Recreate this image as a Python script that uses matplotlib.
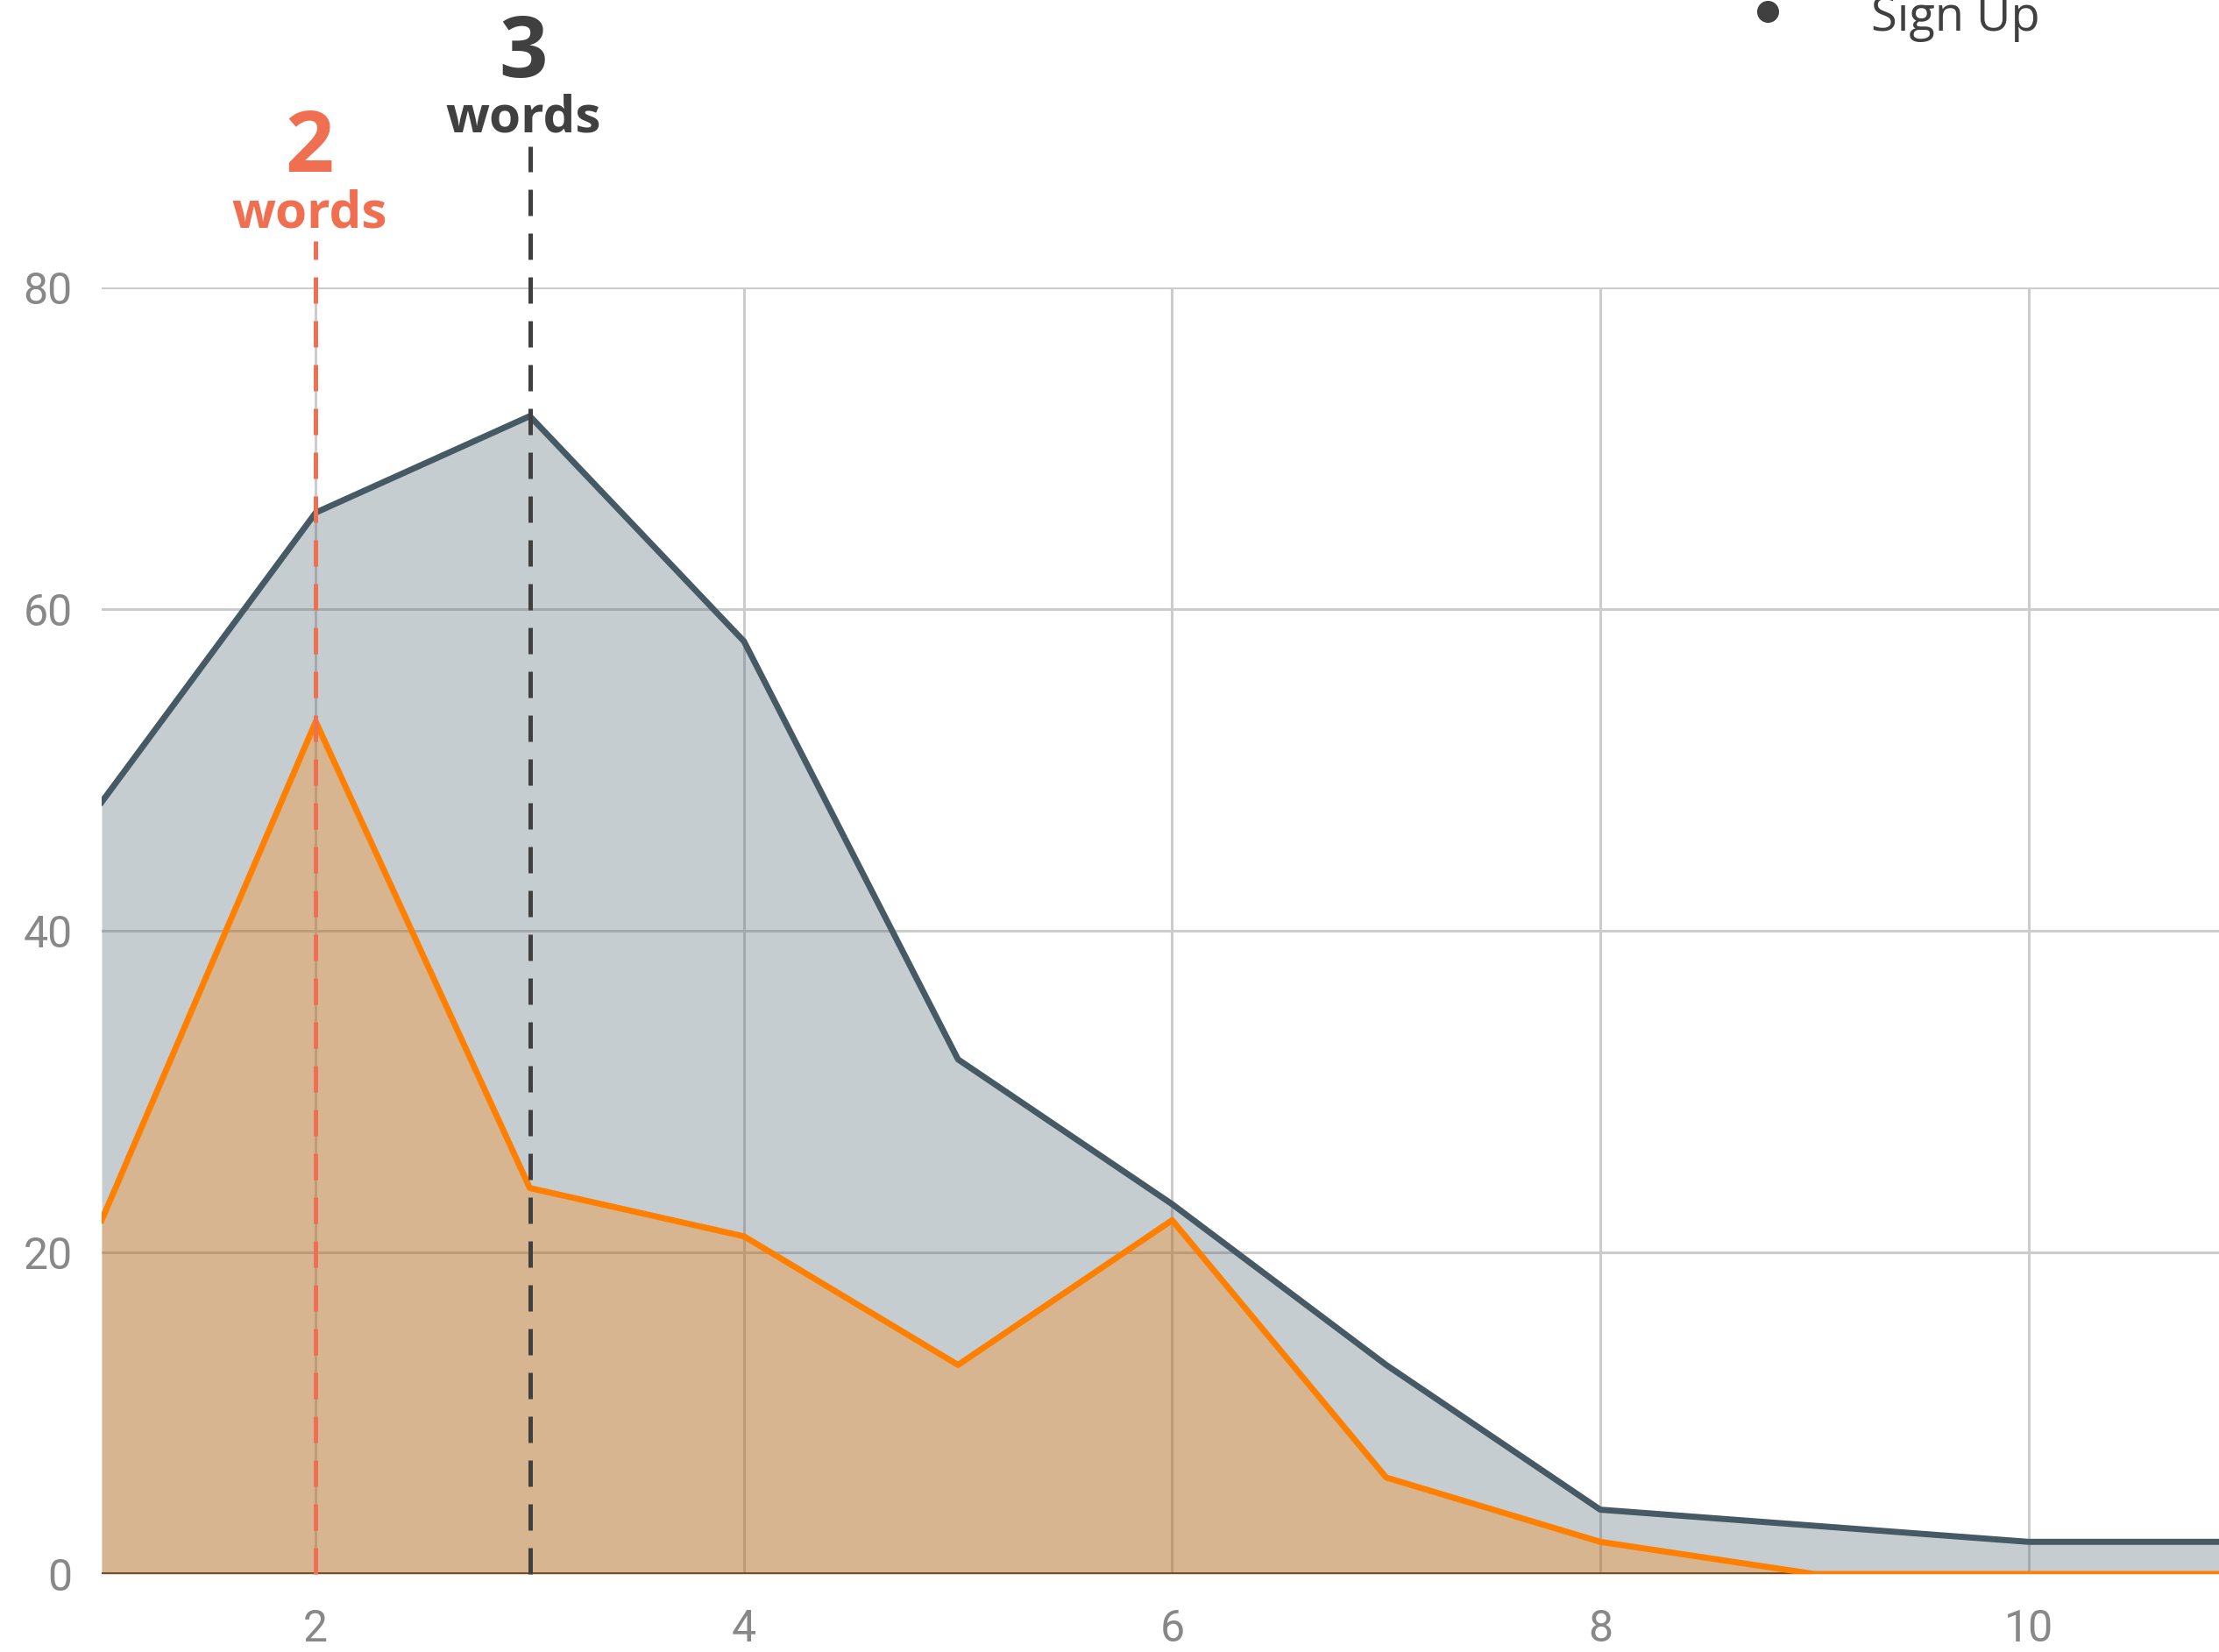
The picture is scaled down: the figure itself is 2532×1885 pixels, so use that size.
import matplotlib
matplotlib.use("Agg")
import matplotlib.pyplot as plt
from matplotlib.lines import Line2D

# words per name -> counts
x_words = [1, 2, 3, 4, 5, 6, 7, 8, 9, 10, 11]
total = [48, 66, 72, 58, 32, 23, 13, 4, 3, 2, 2]
sign_up = [22, 53, 24, 21, 13, 22, 6, 2, 0, 0, 0]

x_ticks = [2, 4, 6, 8, 10]
y_ticks = [0, 20, 40, 60, 80]

marks = [2, 3]
mark_top = [82.9, 88.8]
mark_colors = ["#EF6F50", "#404040"]
legend_label = "Sign Up"

DARK = "#455A64"
ORANGE = "#FF8000"

fig = plt.figure(figsize=(25.32, 18.85), dpi=100)
ax = fig.add_axes([116 / 2532, 1 - 1796 / 1885, 1 - 116 / 2532, (1796 - 328) / 1885])

ax.set_xlim(1, 10.89)
ax.set_ylim(0, 80)

# grid first so fills sit on top of it
for xt in x_ticks:
    ax.axvline(xt, color="#cccccc", lw=2.2, zorder=0)
for yt in y_ticks[1:]:
    ax.axhline(yt, color="#cccccc", lw=2.2, zorder=0)
ax.axhline(0, color="#3a2a1a", lw=3.5, zorder=0.5)

ax.fill_between(x_words, total, 0, color=DARK, alpha=0.3, lw=0, zorder=1)
ax.fill_between(x_words, sign_up, 0, color=ORANGE, alpha=0.3, lw=0, zorder=1.1)
ax.plot(x_words, total, color=DARK, lw=5, zorder=3)
ax.plot(x_words, sign_up, color=ORANGE, lw=5, zorder=3.1)

for m, top, c in zip(marks, mark_top, mark_colors):
    ax.plot([m, m], [0, top], color=c, lw=3.6, dashes=(6, 4),
            clip_on=False, zorder=4)
    ax.text(m - 0.03, top + 0.85, "words", color=c, fontsize=42, fontweight="bold",
            family="Open Sans", ha="center", va="baseline")
    ax.text(m - 0.03, top + 4.3, str(m), color=c, fontsize=70, fontweight="bold",
            family="Open Sans", ha="center", va="baseline")

for s in ax.spines.values():
    s.set_visible(False)
ax.set_xticks(x_ticks)
ax.set_yticks(y_ticks)
ax.tick_params(length=0, labelsize=36, labelcolor="#888888", pad=24)
ax.tick_params(axis="x", pad=28)
for lab in ax.get_xticklabels() + ax.get_yticklabels():
    lab.set_family("Roboto")

# legend entry cut off at the top edge
fig.add_artist(Line2D([2017 / 2532], [1 - 13 / 1885], marker="o", markersize=17,
                      color="#404040", lw=0, transform=fig.transFigure))
fig.text(2135 / 2532, 1 - 35 / 1885, legend_label, fontsize=39, color="#404040",
         family="Open Sans", ha="left", va="baseline")

fig.savefig("out.png", dpi=100)
